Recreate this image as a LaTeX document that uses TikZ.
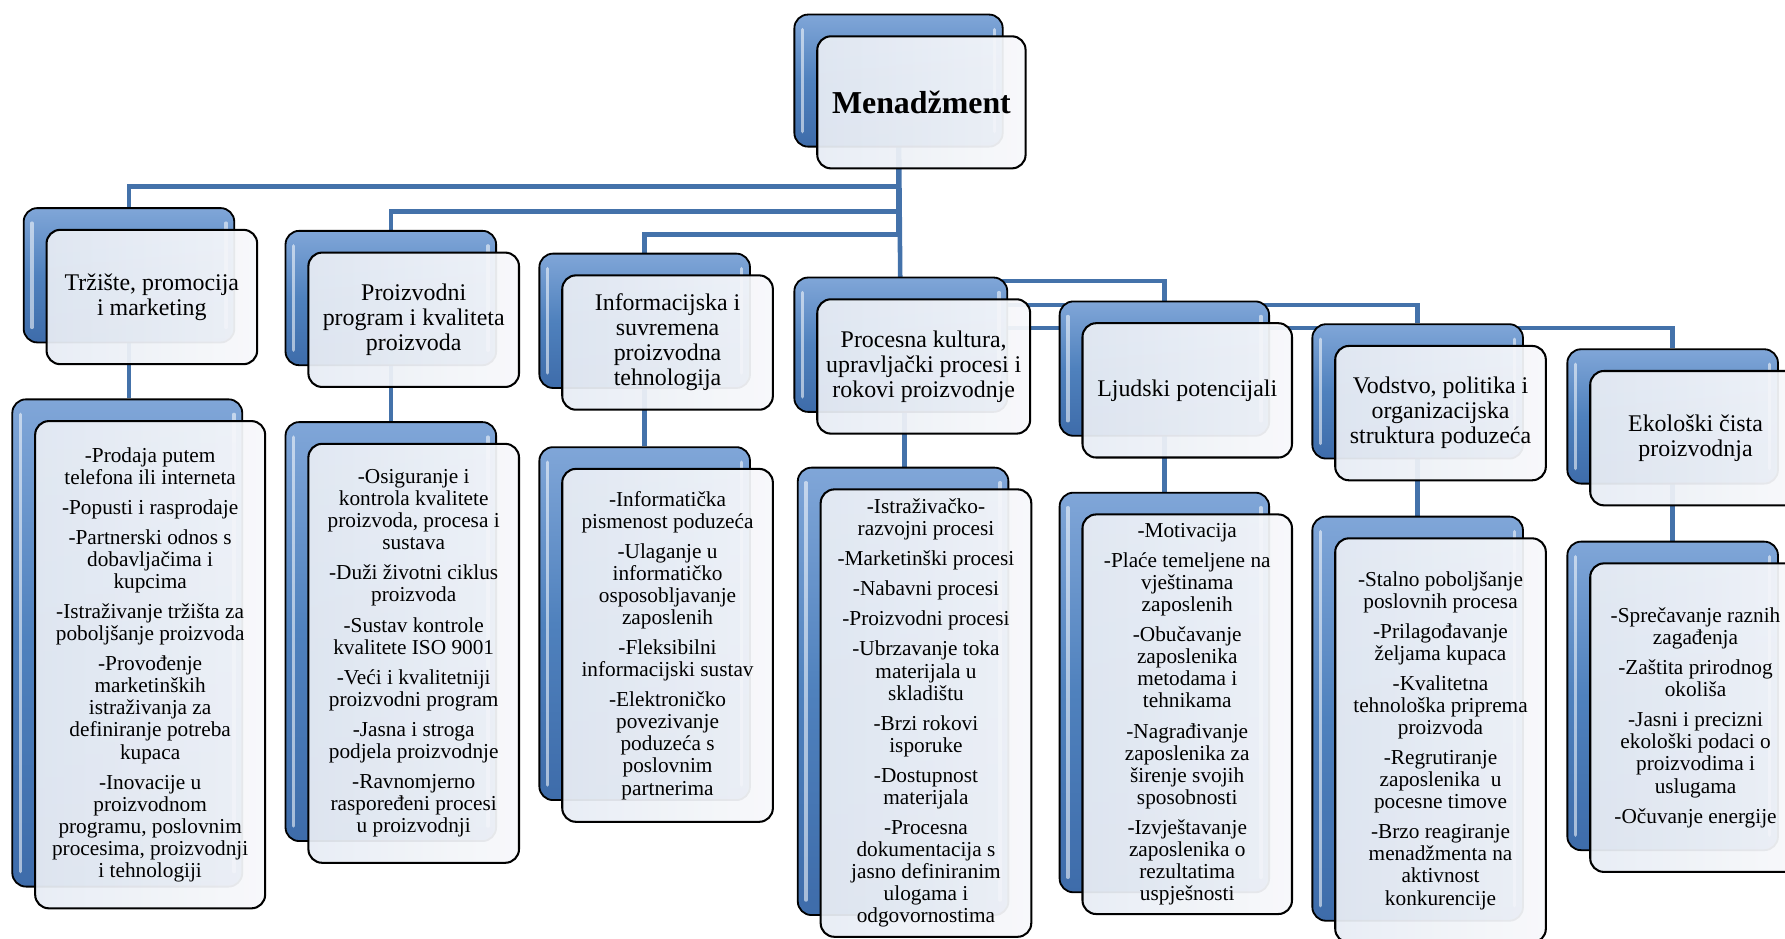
\documentclass[tikz,border=0pt]{standalone}
\usepackage{fontspec}
\setmainfont{Liberation Serif}
\usetikzlibrary{calc}
\pgfdeclarelayer{bg}
\pgfsetlayers{bg,main}
\definecolor{conn}{RGB}{68,114,170}
\definecolor{blueA}{RGB}{128,166,216}
\definecolor{blueB}{RGB}{79,129,189}
\definecolor{blueC}{RGB}{62,108,170}
\definecolor{paleA}{RGB}{231,236,244}
\definecolor{paleB}{RGB}{247,248,251}
\tikzset{
  backbox/.style={draw=black, line width=1.6pt, rounded corners=12pt,
    top color=blueA, bottom color=blueC, middle color=blueB, inner sep=0pt},
  frontbox/.style={draw=black, line width=1.8pt, rounded corners=12pt,
    left color=paleA, right color=paleB, fill opacity=0.94, text opacity=1,
    inner sep=0pt, align=center},
  gloss/.style={white, opacity=0.55, line width=3pt, line cap=round},
  link/.style={conn, line width=4pt},
  titletext/.style={font=\fontsize{21}{22}\selectfont},
  listtext/.style={font=\fontsize{18.7}{19.4}\selectfont},
  headtext/.style={font=\fontsize{28}{30}\selectfont\bfseries},
}
% name, x, y (back box top-left), width, height, text style, text
\newcommand\twinbox[7]{%
  \node[backbox, minimum width=#4pt, minimum height=#5pt, anchor=north west] (#1b) at (#2,#3) {};
  \draw[gloss] ([xshift=8pt,yshift=-14pt]#1b.north west) -- ([xshift=8pt,yshift=14pt]#1b.south west);
  \draw[gloss] ([xshift=-8pt,yshift=-14pt]#1b.north east) -- ([xshift=-8pt,yshift=14pt]#1b.south east);
  \node[frontbox, #6, minimum width=#4pt, minimum height=#5pt, anchor=north west] (#1) at (#2+20,#3+19) {#7};
}
\begin{document}
\begin{tikzpicture}[x=1pt, y=-1pt]
\useasboundingbox (0,0) rectangle (1568,824);
\clip (0,0) rectangle (1568,824);

\twinbox{m}{697}{12}{183}{116}{headtext}{Menadžment}

\twinbox{t1}{20}{182}{185}{118}{titletext}{Tržište, promocija\\ i marketing}
\twinbox{t2}{250}{202}{185}{118}{titletext}{Proizvodni\\ program i kvaliteta\\ proizvoda}
\twinbox{t3}{473}{222}{185}{118}{titletext}{Informacijska i\\ suvremena\\ proizvodna\\ tehnologija}
\twinbox{t4}{697}{243}{187}{118}{titletext}{Procesna kultura,\\ upravljački procesi i\\ rokovi proizvodnje}
\twinbox{t5}{930}{264}{184}{118}{titletext}{Ljudski potencijali}
\twinbox{t6}{1152}{284}{185}{118}{titletext}{Vodstvo, politika i\\ organizacijska\\ struktura poduzeća}
\twinbox{t7}{1376}{306}{185}{118}{titletext}{Ekološki čista\\ proizvodnja}

\twinbox{d1}{10}{350}{202}{428}{listtext}{-Prodaja putem\\ telefona ili interneta\\[7pt]
-Popusti i rasprodaje\\[7pt]
-Partnerski odnos s\\ dobavljačima i\\ kupcima\\[7pt]
-Istraživanje tržišta za\\ poboljšanje proizvoda\\[7pt]
-Provođenje\\ marketinških\\ istraživanja za\\ definiranje potreba\\ kupaca\\[7pt]
-Inovacije u\\ proizvodnom\\ programu, poslovnim\\ procesima, proizvodnji\\ i tehnologiji}

\twinbox{d2}{250}{370}{185}{368}{listtext}{-Osiguranje i\\ kontrola kvalitete\\ proizvoda, procesa i\\ sustava\\[7pt]
-Duži životni ciklus\\ proizvoda\\[7pt]
-Sustav kontrole\\ kvalitete ISO 9001\\[7pt]
-Veći i kvalitetniji\\ proizvodni program\\[7pt]
-Jasna i stroga\\ podjela proizvodnje\\[7pt]
-Ravnomjerno\\ raspoređeni procesi\\ u proizvodnji}

\twinbox{d3}{473}{392}{185}{310}{listtext}{-Informatička\\ pismenost poduzeća\\[7pt]
-Ulaganje u\\ informatičko\\ osposobljavanje\\ zaposlenih\\[7pt]
-Fleksibilni\\ informacijski sustav\\[7pt]
-Elektroničko\\ povezivanje\\ poduzeća s\\ poslovnim\\ partnerima}

\twinbox{d4}{700}{410}{185}{393}{listtext}{-Istraživačko-\\ razvojni procesi\\[7pt]
-Marketinški procesi\\[7pt]
-Nabavni procesi\\[7pt]
-Proizvodni procesi\\[7pt]
-Ubrzavanje toka\\ materijala u\\ skladištu\\[7pt]
-Brzi rokovi\\ isporuke\\[7pt]
-Dostupnost\\ materijala\\[7pt]
-Procesna\\ dokumentacija s\\ jasno definiranim\\ ulogama i\\ odgovornostima}

\twinbox{d5}{930}{432}{184}{351}{listtext}{-Motivacija\\[7pt]
-Plaće temeljene na\\ vještinama\\ zaposlenih\\[7pt]
-Obučavanje\\ zaposlenika\\ metodama i\\ tehnikama\\[7pt]
-Nagrađivanje\\ zaposlenika za\\ širenje svojih\\ sposobnosti\\[7pt]
-Izvještavanje\\ zaposlenika o\\ rezultatima\\ uspješnosti}

\twinbox{d6}{1152}{453}{185}{355}{listtext}{-Stalno poboljšanje\\ poslovnih procesa\\[7pt]
-Prilagođavanje\\ željama kupaca\\[7pt]
-Kvalitetna\\ tehnološka priprema\\ proizvoda\\[7pt]
-Regrutiranje\\ zaposlenika~ u\\ pocesne timove\\[7pt]
-Brzo reagiranje\\ menadžmenta na\\ aktivnost\\ konkurencije}

\twinbox{d7}{1376}{475}{185}{271}{listtext}{-Sprečavanje raznih\\ zagađenja\\[7pt]
-Zaštita prirodnog\\ okoliša\\[7pt]
-Jasni i precizni\\ ekološki podaci o\\ proizvodima i\\ uslugama\\[7pt]
-Očuvanje energije}

\begin{pgfonlayer}{bg}
  \draw[link] (mb.center) -- (t4b.center);
  \draw[link] (mb.center) |- ([yshift=18pt]t1b.north) -- (t1b.north);
  \draw[link] (mb.center) |- ([yshift=16pt]t2b.north) -- (t2b.north);
  \draw[link] (mb.center) |- ([yshift=16pt]t3b.north) -- (t3b.north);
  \draw[link] (t4b.center) |- ([yshift=17pt]t5b.north) -- (t5b.north);
  \draw[link] (t4b.center) |- ([yshift=16pt]t6b.north) -- (t6b.north);
  \draw[link] (t4b.center) |- ([yshift=18pt]t7b.north) -- (t7b.north);
  \draw[link] (t1b.center) -- (t1b.center |- d1b.north);
  \draw[link] (t2b.center) -- (t2b.center |- d2b.north);
  \draw[link] (t3b.center) -- (t3b.center |- d3b.north);
  \draw[link] ([xshift=3pt]t4b.center) -- ([xshift=3pt]t4b.center |- d4b.north);
  \draw[link] (t5b.center) -- (t5b.center |- d5b.north);
  \draw[link] (t6b.center) -- (t6b.center |- d6b.north);
  \draw[link] (t7b.center) -- (t7b.center |- d7b.north);
\end{pgfonlayer}
\end{tikzpicture}
\end{document}
